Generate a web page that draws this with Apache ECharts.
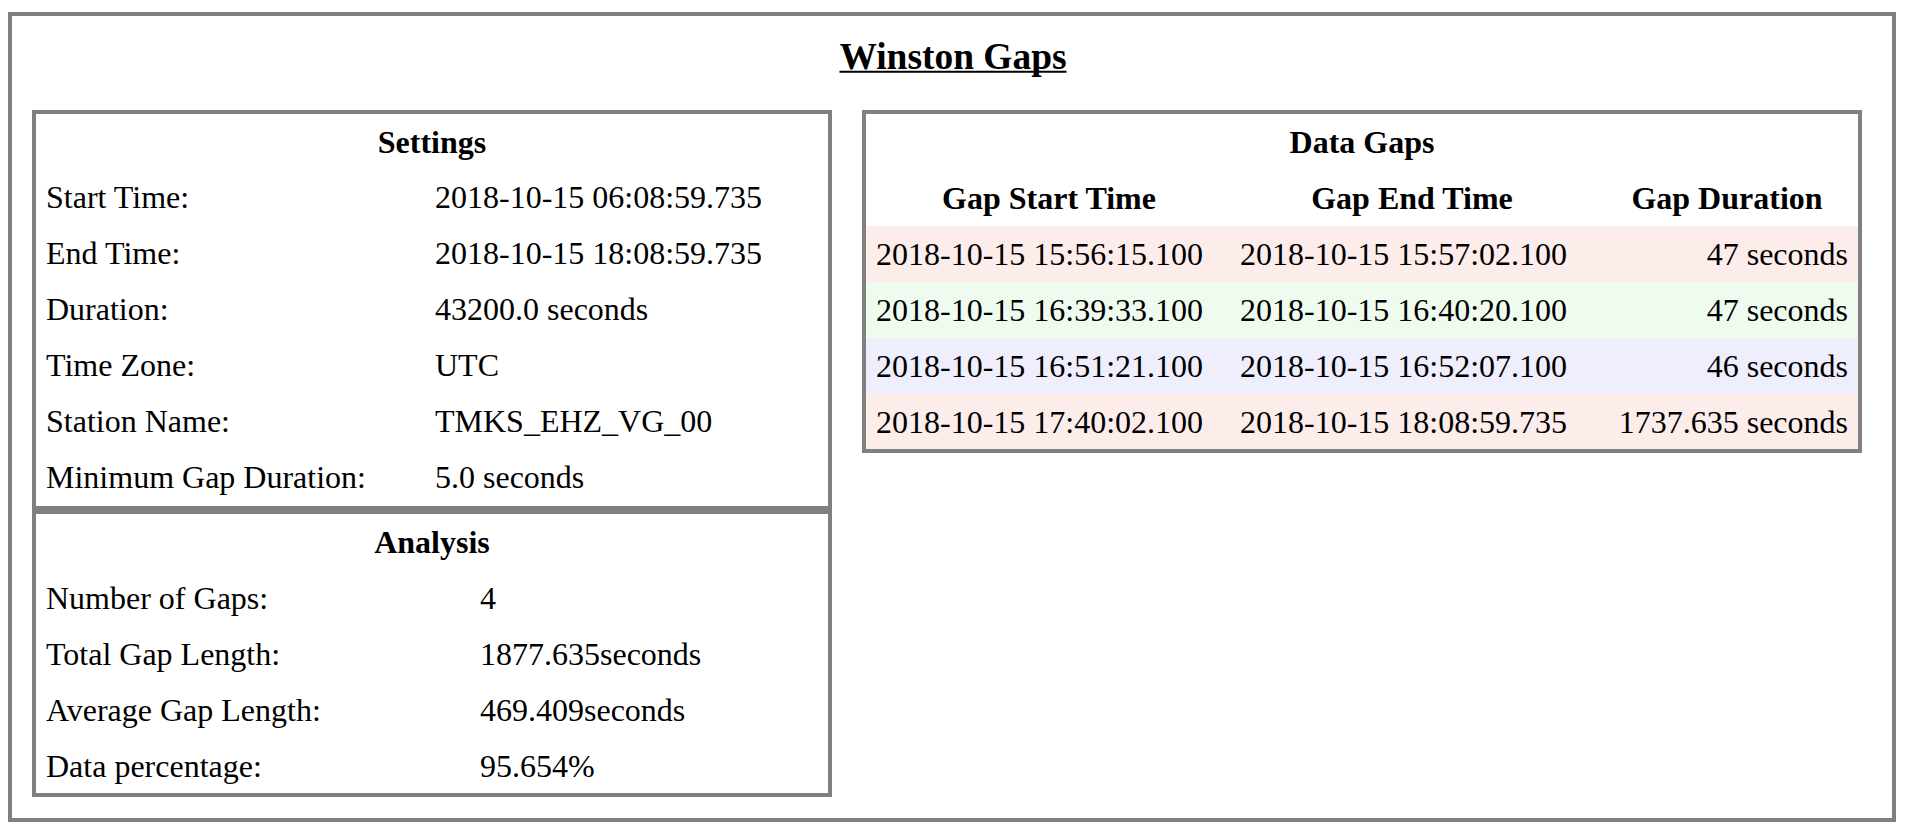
<!DOCTYPE html>
<html>
<head>
<meta charset="utf-8">
<title>Winston Gaps</title>
<script src="https://cdn.jsdelivr.net/npm/echarts@6/dist/echarts.min.js"></script>
<style>
  html, body { margin: 0; padding: 0; background: #ffffff; }
  #chart { width: 1906px; height: 836px; }
</style>
</head>
<body>
<div id="chart"></div>
<script>
// ---------------- data ----------------
var pageTitle = 'Winston Gaps';

var settingsTitle = 'Settings';
var settingsLabels = ['Start Time:', 'End Time:', 'Duration:', 'Time Zone:', 'Station Name:', 'Minimum Gap Duration:'];
var settingsValues = ['2018-10-15 06:08:59.735', '2018-10-15 18:08:59.735', '43200.0 seconds', 'UTC', 'TMKS_EHZ_VG_00', '5.0 seconds'];

var analysisTitle = 'Analysis';
var analysisLabels = ['Number of Gaps:', 'Total Gap Length:', 'Average Gap Length:', 'Data percentage:'];
var analysisValues = ['4', '1877.635seconds', '469.409seconds', '95.654%'];

var gapsTitle = 'Data Gaps';
var gapHeaders = ['Gap Start Time', 'Gap End Time', 'Gap Duration'];
var gapStarts = ['2018-10-15 15:56:15.100', '2018-10-15 16:39:33.100', '2018-10-15 16:51:21.100', '2018-10-15 17:40:02.100'];
var gapEnds = ['2018-10-15 15:57:02.100', '2018-10-15 16:40:20.100', '2018-10-15 16:52:07.100', '2018-10-15 18:08:59.735'];
var gapDurations = ['47 seconds', '47 seconds', '46 seconds', '1737.635 seconds'];

// ---------------- style / layout ----------------
var FONT = '"Liberation Serif", "Times New Roman", Times, serif';
var FS = 32;
var TITLE_FS = 37.44;
var BORDER = '#808080';
var ROW_COLORS = ['#fcedeb', '#effbee', '#eeeefc', '#fcedeb'];

// column layout of the gap table, offsets from grid left
var GAP_COLS = [
  { dx: 10, align: 'left', headerDx: 183 },
  { dx: 374, align: 'left', headerDx: 546 },
  { dx: 982, align: 'right', headerDx: 861 }
];
var SETTINGS_VALUE_DX = 399;
var ANALYSIS_VALUE_DX = 444;
var LABEL_DX = 10;

function idx(arr) { return arr.map(function (_, i) { return [0, i]; }); }
function txt(s, x, y, align, bold) {
  return {
    type: 'text',
    style: {
      text: s, x: x, y: y,
      fontFamily: FONT, fontSize: FS, fontWeight: bold ? 'bold' : 'normal',
      fill: '#000', align: align, verticalAlign: 'middle'
    }
  };
}

var chart = echarts.init(document.getElementById('chart'), null, { renderer: 'svg' });

var ctx = document.createElement('canvas').getContext('2d');
ctx.font = 'bold ' + TITLE_FS + 'px ' + FONT;
var titleW = ctx.measureText(pageTitle).width;

function kvRender(labels, values, valueDx) {
  return function (params, api) {
    var row = api.value(1);
    var cs = params.coordSys;
    var y = api.coord([0, row])[1];
    return {
      type: 'group',
      children: [
        txt(labels[row], cs.x + LABEL_DX, y, 'left', false),
        txt(values[row], cs.x + valueDx, y, 'left', false)
      ]
    };
  };
}

function gapRender(params, api) {
  var row = api.value(1);
  var cs = params.coordSys;
  var y = api.coord([0, row])[1];
  var h = api.size([0, 1])[1];
  var cols = [gapStarts, gapEnds, gapDurations];
  var children = [{
    type: 'rect',
    shape: { x: cs.x, y: y - h / 2, width: cs.width, height: h },
    style: { fill: ROW_COLORS[row % ROW_COLORS.length] }
  }];
  cols.forEach(function (c, ci) {
    children.push(txt(c[row], cs.x + GAP_COLS[ci].dx, y, GAP_COLS[ci].align, false));
  });
  return { type: 'group', children: children };
}

function hiddenX(i) {
  return { gridIndex: i, type: 'value', min: 0, max: 1, show: false };
}
function hiddenY(i, arr) {
  return { gridIndex: i, type: 'category', data: arr.map(function (_, k) { return k; }), inverse: true, show: false };
}

var gapGrid = { left: 866, top: 226, width: 992, height: 224 };

var graphics = [
  // outer frame
  { type: 'rect', shape: { x: 10, y: 14, width: 1884, height: 806 }, style: { fill: 'none', stroke: BORDER, lineWidth: 4 }, z: 10 },
  // settings box
  { type: 'rect', shape: { x: 34, y: 112, width: 796, height: 396 }, style: { fill: 'none', stroke: BORDER, lineWidth: 4 }, z: 10 },
  // analysis box
  { type: 'rect', shape: { x: 34, y: 512, width: 796, height: 283 }, style: { fill: 'none', stroke: BORDER, lineWidth: 4 }, z: 10 },
  // data gaps box
  { type: 'rect', shape: { x: 864, y: 112, width: 996, height: 339 }, style: { fill: 'none', stroke: BORDER, lineWidth: 4 }, z: 10 },
  // title underline
  { type: 'line', shape: { x1: 953 - titleW / 2, y1: 71.7, x2: 953 + titleW / 2, y2: 71.7 }, style: { stroke: '#000', lineWidth: 2 }, z: 10 },
  // section headers
  txt(settingsTitle, 432, 142, 'center', true),
  txt(analysisTitle, 432, 542, 'center', true),
  txt(gapsTitle, 1362, 142, 'center', true)
];
gapHeaders.forEach(function (hname, i) {
  graphics.push(txt(hname, gapGrid.left + GAP_COLS[i].headerDx, 198, 'center', true));
});

chart.setOption({
  animation: false,
  backgroundColor: '#ffffff',
  title: {
    text: pageTitle,
    left: 'center',
    top: 38,
    padding: 0,
    textStyle: { fontFamily: FONT, fontSize: TITLE_FS, fontWeight: 'bold', color: '#000' }
  },
  grid: [
    { left: 36, top: 169, width: 792, height: 336 },
    { left: 36, top: 570, width: 792, height: 224 },
    gapGrid
  ],
  xAxis: [hiddenX(0), hiddenX(1), hiddenX(2)],
  yAxis: [hiddenY(0, settingsLabels), hiddenY(1, analysisLabels), hiddenY(2, gapStarts)],
  series: [
    { type: 'custom', name: 'Settings', xAxisIndex: 0, yAxisIndex: 0, data: idx(settingsLabels), renderItem: kvRender(settingsLabels, settingsValues, SETTINGS_VALUE_DX), clip: false },
    { type: 'custom', name: 'Analysis', xAxisIndex: 1, yAxisIndex: 1, data: idx(analysisLabels), renderItem: kvRender(analysisLabels, analysisValues, ANALYSIS_VALUE_DX), clip: false },
    { type: 'custom', name: 'Data Gaps', xAxisIndex: 2, yAxisIndex: 2, data: idx(gapStarts), renderItem: gapRender, clip: false }
  ],
  graphic: graphics
});
</script>
</body>
</html>
